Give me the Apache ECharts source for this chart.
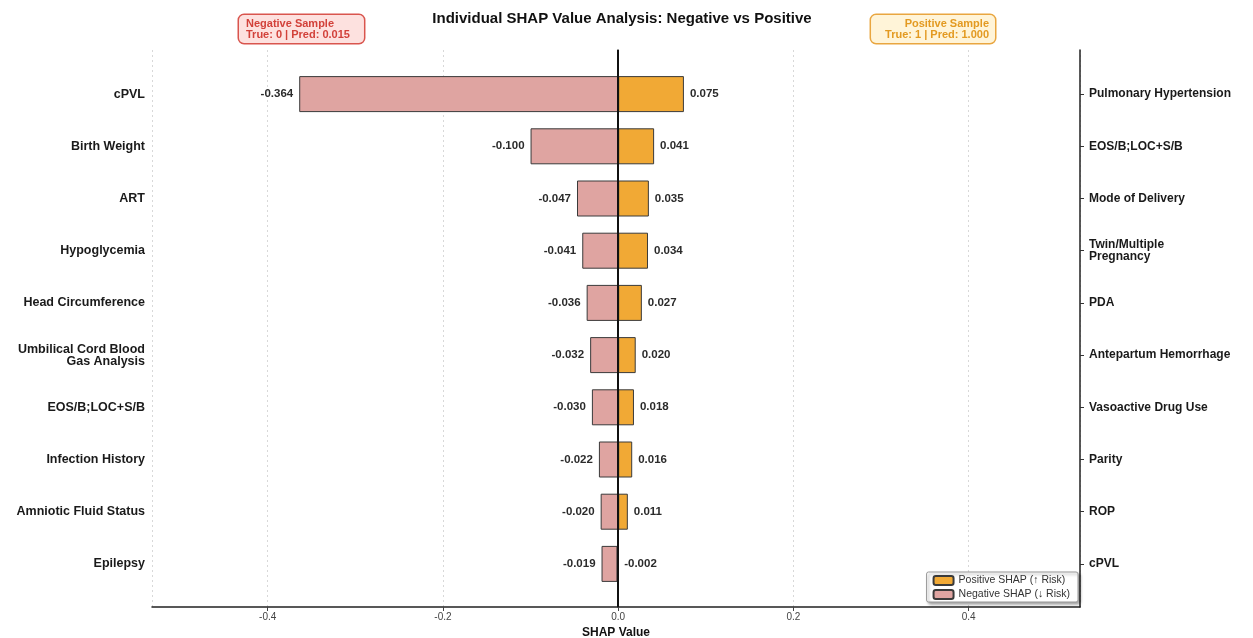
<!DOCTYPE html>
<html>
<head>
<meta charset="utf-8">
<title>Individual SHAP Value Analysis</title>
<script src="https://cdn.jsdelivr.net/npm/echarts@6/dist/echarts.min.js"></script>
<style>
  html, body { margin: 0; padding: 0; background: #fff; }
  #chart { width: 1253px; height: 638px; }
</style>
</head>
<body>
<div id="chart"></div>
<script>
// Features of the negative sample (top to bottom) and their SHAP values
const negFeatures = ['cPVL', 'Birth Weight', 'ART', 'Hypoglycemia', 'Head Circumference',
  'Umbilical Cord Blood\nGas Analysis', 'EOS/B;LOC+S/B', 'Infection History',
  'Amniotic Fluid Status', 'Epilepsy'];
const negValues = [-0.364, -0.100, -0.047, -0.041, -0.036, -0.032, -0.030, -0.022, -0.020, -0.019];

// Features of the positive sample (top to bottom) and their SHAP values
const posFeatures = ['Pulmonary Hypertension', 'EOS/B;LOC+S/B', 'Mode of Delivery',
  'Twin/Multiple\nPregnancy', 'PDA', 'Antepartum Hemorrhage', 'Vasoactive Drug Use',
  'Parity', 'ROP', 'cPVL'];
const posValues = [0.075, 0.041, 0.035, 0.034, 0.027, 0.020, 0.018, 0.016, 0.011, -0.002];

const xTicks = [-0.4, -0.2, 0.0, 0.2, 0.4];
const xMin = -0.532, xMax = 0.527;

const PINK = '#dfa4a1';
const ORANGE = '#f1a935';
const FONT = '"Liberation Sans", Arial, sans-serif';

const chart = echarts.init(document.getElementById('chart'), null, { renderer: 'canvas' });

const valueLabel = (pos) => ({
  show: true,
  position: pos,
  distance: 6,
  formatter: p => p.value.toFixed(3),
  color: '#2b2b2b',
  fontFamily: FONT,
  fontWeight: 'bold',
  fontSize: 11.5
});

const option = {
  backgroundColor: '#ffffff',
  animation: false,
  title: {
    text: 'Individual SHAP Value Analysis: Negative vs Positive',
    left: 617,
    top: 6,
    textAlign: 'center',
    textStyle: { fontFamily: FONT, fontSize: 15, fontWeight: 'bold', color: '#111' }
  },
  graphic: [
    {
      type: 'text', x: 239, y: 15, z: 10,
      style: {
        text: 'Negative Sample\nTrue: 0 | Pred: 0.015',
        fontFamily: FONT, fontSize: 11, fontWeight: 'bold', lineHeight: 11,
        fill: '#d2413a', align: 'left',
        backgroundColor: '#fde1df', borderColor: '#d9554e', borderWidth: 1.5,
        borderRadius: 5, padding: [3, 14, 3, 7]
      }
    },
    {
      type: 'text', x: 995, y: 15, z: 10,
      style: {
        text: 'Positive Sample\nTrue: 1 | Pred: 1.000',
        fontFamily: FONT, fontSize: 11, fontWeight: 'bold', lineHeight: 11,
        fill: '#e39a22', align: 'right',
        backgroundColor: '#fff4d8', borderColor: '#e9a640', borderWidth: 1.5,
        borderRadius: 5, padding: [3, 6, 3, 14]
      }
    }
  ],
  legend: {
    data: ['Positive SHAP (↑ Risk)', 'Negative SHAP (↓ Risk)'],
    orient: 'vertical',
    right: 175,
    bottom: 36,
    backgroundColor: '#ffffff',
    borderColor: '#9a9a9a',
    borderWidth: 1,
    borderRadius: 2,
    padding: [3, 8, 2, 6],
    itemGap: 3,
    itemWidth: 20,
    itemHeight: 9,
    shadowColor: 'rgba(0,0,0,0.35)',
    shadowBlur: 3,
    shadowOffsetX: 2,
    shadowOffsetY: 2,
    textStyle: { fontFamily: FONT, fontSize: 10.5, color: '#333' }
  },
  grid: [
    // frame with axes, ticks and grid lines
    { left: 152, right: 173, top: 50, height: 557, outerBoundsMode: 'none', containLabel: false },
    // bars, laid out on the feature bands
    { left: 152, right: 173, top: 68, height: 522, outerBoundsMode: 'none', containLabel: false }
  ],
  xAxis: [
    {
      type: 'value', gridIndex: 0, min: xMin, max: xMax,
      name: 'SHAP Value', nameLocation: 'middle', nameGap: 17,
      nameTextStyle: { fontFamily: FONT, fontSize: 12, fontWeight: 'bold', color: '#111' },
      axisLine: { show: true, lineStyle: { color: '#222', width: 1.5 } },
      axisTick: { show: true, length: 4, lineStyle: { color: '#444' } },
      axisLabel: {
        showMinLabel: false, showMaxLabel: false, margin: 5,
        fontFamily: FONT, fontSize: 10, color: '#444',
        formatter: v => xTicks.some(t => Math.abs(t - v) < 1e-9) ? v.toFixed(1) : ''
      },
      splitLine: { show: true, lineStyle: { color: '#d8d8d8', type: [2, 3], width: 1 } }
    },
    {
      type: 'value', gridIndex: 1, min: xMin, max: xMax, show: false,
      splitLine: { show: false }
    }
  ],
  yAxis: [
    {
      type: 'value', gridIndex: 0, min: 0, max: 1, position: 'left',
      axisLine: { show: true, lineStyle: { color: '#222', width: 1.5 } },
      axisTick: { show: false }, axisLabel: { show: false }, splitLine: { show: false }
    },
    {
      type: 'value', gridIndex: 0, min: 0, max: 1, position: 'right',
      axisLine: { show: true, lineStyle: { color: '#222', width: 1.5 } },
      axisTick: { show: false }, axisLabel: { show: false }, splitLine: { show: false }
    },
    {
      type: 'category', gridIndex: 1, data: negFeatures, inverse: true, position: 'left',
      axisLine: { show: false },
      axisTick: { show: true, alignWithLabel: true, length: 4, lineStyle: { color: '#333' } },
      axisLabel: {
        fontFamily: FONT, fontSize: 12.5, fontWeight: 'bold', color: '#1a1a1a',
        margin: 7, lineHeight: 12, align: 'right'
      }
    },
    {
      type: 'category', gridIndex: 1, data: posFeatures, inverse: true, position: 'right',
      axisLine: { show: false },
      axisTick: { show: true, alignWithLabel: true, length: 4, lineStyle: { color: '#333' } },
      axisLabel: {
        fontFamily: FONT, fontSize: 12, fontWeight: 'bold', color: '#1a1a1a',
        margin: 9, lineHeight: 12, align: 'left'
      }
    }
  ],
  series: [
    {
      // zero reference line across the full frame
      type: 'line', xAxisIndex: 0, yAxisIndex: 0, data: [], silent: true,
      markLine: {
        silent: true, symbol: 'none', animation: false,
        label: { show: false },
        lineStyle: { color: '#111', width: 2, type: 'solid' },
        data: [{ xAxis: 0 }]
      },
      z: 5
    },
    {
      name: 'Negative SHAP (↓ Risk)',
      type: 'bar', xAxisIndex: 1, yAxisIndex: 2,
      data: negValues,
      barWidth: 36,
      itemStyle: { color: PINK, borderColor: '#3a3a3a', borderWidth: 1 },
      label: valueLabel('left'),
      z: 3
    },
    {
      name: 'Positive SHAP (↑ Risk)',
      type: 'bar', xAxisIndex: 1, yAxisIndex: 3,
      data: posValues.map(v => v < 0
        ? { value: v, itemStyle: { color: PINK } }
        : { value: v }),
      barWidth: 36,
      barGap: '-100%',
      itemStyle: { color: ORANGE, borderColor: '#3a3a3a', borderWidth: 1 },
      label: valueLabel('right'),
      z: 3
    }
  ]
};

chart.setOption(option);
</script>
</body>
</html>
